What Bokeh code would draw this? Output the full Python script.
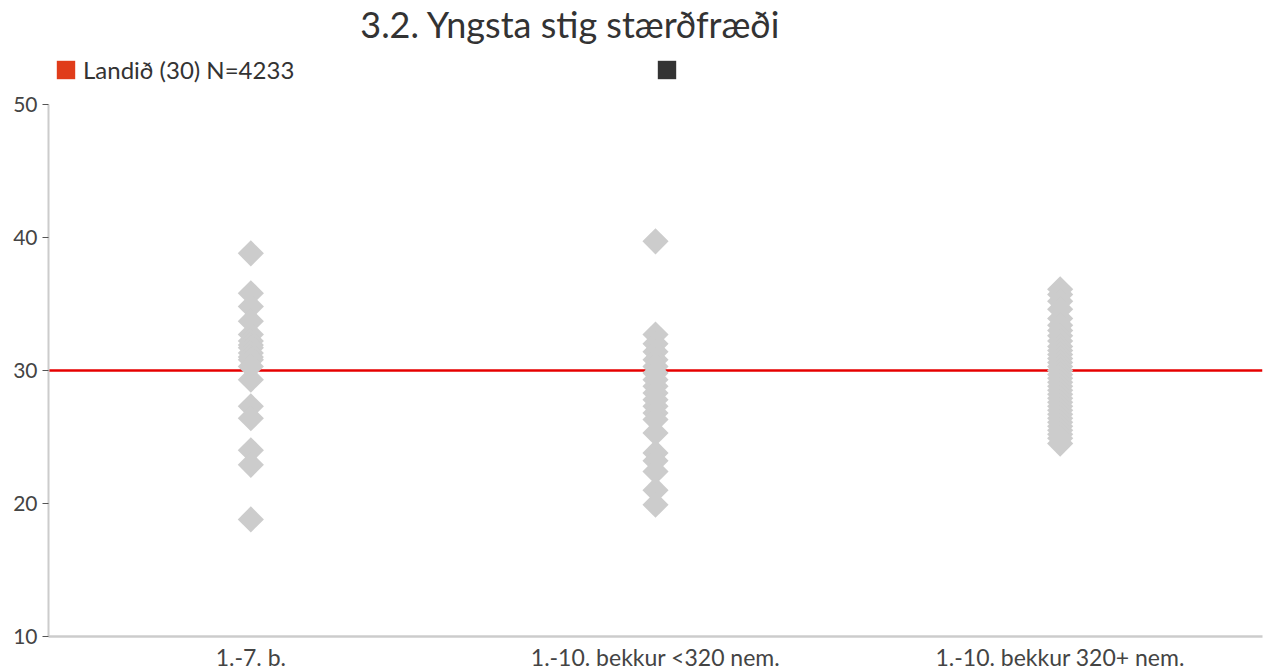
from bokeh.plotting import figure
from bokeh.models import FactorRange, Range1d, Span, Legend, LegendItem, FixedTicker, Label
from bokeh.embed import file_html
from bokeh.resources import INLINE
import numpy as np

title_text = "3.2. Yngsta stig stærðfræði"
categories = ["1.-7. b.", "1.-10. bekkur <320 nem.", "1.-10. bekkur 320+ nem."]

values_small = [38.8, 35.8, 34.8, 33.7, 32.7, 32.2, 31.9, 31.7, 31.3, 31.0, 30.8,
                30.3, 29.3, 27.3, 26.4, 24.0, 22.9, 18.8]
values_mid = [39.7, 32.7, 32.0, 31.4, 30.8, 30.3, 29.8, 29.3, 28.8, 28.3, 27.8,
              27.3, 26.8, 26.3, 25.3, 23.8, 23.2, 22.4, 21.0, 19.9]
values_large = [36.1, 35.7, 35.2, 34.6, 33.9, 33.4, 33.0, 32.6, 32.2, 31.8, 31.5,
                31.2, 30.9, 30.6, 30.3, 30.0, 29.7, 29.4, 29.1, 28.8, 28.5, 28.2,
                27.9, 27.6, 27.3, 27.0, 26.7, 26.4, 26.1, 25.8, 25.5, 25.2, 24.9, 24.5]

national_value = 30
legend_label = "Landið (30) N=4233"
y_ticks = [10, 20, 30, 40, 50]
y_min, y_max = 10, 50
y_top = 57.8  # head room above the axis for title and legend

FONT = "Lato"

p = figure(frame_width=1214, frame_height=636, x_range=FactorRange(*categories),
           y_range=Range1d(y_min, y_top), output_backend="svg", toolbar_location=None,
           title_location=None,
           min_border_left=48, min_border_right=12, min_border_bottom=30,
           min_border_top=0)

p.outline_line_color = None
p.xgrid.grid_line_color = None
p.ygrid.grid_line_color = None
p.background_fill_color = "white"
p.border_fill_color = "white"

# national reference line, under the markers
p.add_layout(Span(location=national_value, dimension="width", line_color="#e60000",
                  line_width=2.5, level="underlay"))

xs, ys = [], []
for cat, vals in zip(categories, [values_small, values_mid, values_large]):
    xs += [cat] * len(vals)
    ys += vals
p.scatter(x=xs, y=ys, marker="square", size=18.5, angle=np.pi / 4,
          fill_color="#cccccc", line_color=None)

# title
p.add_layout(Label(x=1.29, y=56.05, text=title_text, text_align="center",
                   text_baseline="middle", text_font=FONT, text_font_size="36px",
                   text_color="#333333"))

# legend entries (swatch renderers sit below the visible range)
r1 = p.quad(left=[categories[0]], right=[categories[0]], top=[0], bottom=[0],
            fill_color="#e03c1a", line_color=None)
r2 = p.quad(left=[categories[0]], right=[categories[0]], top=[0], bottom=[0],
            fill_color="#333333", line_color=None)
legend = Legend(items=[LegendItem(label=legend_label, renderers=[r1]),
                       LegendItem(label=" ", renderers=[r2])],
                orientation="horizontal", location=(6, 552),
                glyph_width=23, glyph_height=23, label_standoff=6,
                label_width=572, label_height=23, spacing=0, padding=7, margin=0,
                label_text_font=FONT, label_text_font_size="24px",
                label_text_color="#333333", background_fill_alpha=0,
                border_line_color=None)
p.add_layout(legend, "center")

# axes
p.yaxis.ticker = FixedTicker(ticks=y_ticks)
p.yaxis.bounds = (y_min, y_max)
p.yaxis.axis_line_color = "#cccccc"
p.yaxis.axis_line_width = 2
p.yaxis.major_tick_line_color = "#555555"
p.yaxis.major_tick_out = 6
p.yaxis.major_tick_in = 0
p.yaxis.minor_tick_line_color = None
p.yaxis.major_label_text_font = FONT
p.yaxis.major_label_text_font_size = "21px"
p.yaxis.major_label_text_color = "#444444"
p.yaxis.major_label_standoff = 5

p.xaxis.axis_line_color = "#cccccc"
p.xaxis.axis_line_width = 2.5
p.xaxis.major_tick_line_color = None
p.xaxis.minor_tick_line_color = None
p.xaxis.major_label_text_font = FONT
p.xaxis.major_label_text_font_size = "23px"
p.xaxis.major_label_text_color = "#444444"
p.xaxis.major_label_standoff = 0

open("out.html", "w").write(file_html(p, INLINE))
